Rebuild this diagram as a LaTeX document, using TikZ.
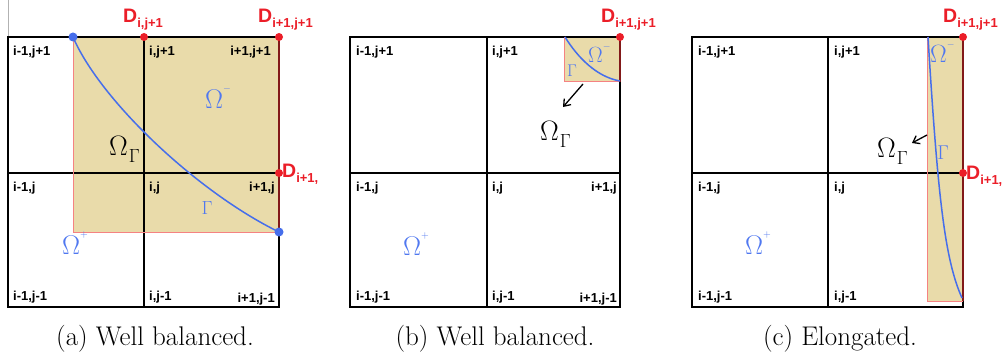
\RequirePackage{fix-cm}
\documentclass[tikz,border=0pt]{standalone}
\usepackage{fontspec}
\usepackage{graphicx}
\newfontfamily\arialf{Liberation Sans}
\usetikzlibrary{arrows.meta}
\definecolor{shadec}{RGB}{233,219,170}
\definecolor{pinkc}{RGB}{245,130,130}
\definecolor{edgec}{RGB}{130,25,25}
\definecolor{redc}{RGB}{235,30,40}
\definecolor{bluec}{RGB}{70,110,235}
\definecolor{blued}{RGB}{80,120,240}
\newcommand\Dl[1]{{\arialf\bfseries\fontsize{19.5}{20}\selectfont D\raisebox{-5pt}{\fontsize{13}{13}\selectfont #1}}}
\newcommand\OmG{{\fontsize{28}{28}\selectfont$\Omega$}\hspace{1pt}\raisebox{-7pt}{\fontsize{19}{19}\selectfont$\Gamma$}}
\newcommand\OmS[2]{{\fontsize{#2}{#2}\selectfont$\Omega$\raisebox{0.6em}{\fontsize{10}{10}\selectfont$#1$}}}
\newcommand\gridat[3]{\draw[gridln] (#1,37) rectangle (#3,307); \draw[gridln] (#2,37)--(#2,307) (#1,173)--(#3,173);}
\begin{document}
\begin{tikzpicture}[x=1pt,y=-1pt,
  gridln/.style={line width=1.8pt,black},
  cell/.style={font=\arialf\bfseries\fontsize{13}{13}\selectfont,inner sep=0pt},
  nw/.style={cell,anchor=north west},
  ne/.style={cell,anchor=north east},
  dlab/.style={text=redc,inner sep=0pt,anchor=base west},
  rdot/.style={circle,fill=redc,inner sep=0pt,minimum size=8pt},
  bdot/.style={circle,fill=bluec,inner sep=0pt,minimum size=9pt},
  softedge/.style={pinkc,line width=1pt},
  hardedge/.style={edgec,line width=1.8pt},
  curveln/.style={bluec,line width=1.5pt},
  omlab/.style={inner sep=0pt,anchor=base west},
  bluelab/.style={omlab,text=blued},
  gamlab/.style={inner sep=0pt,text=blued},
  pointer/.style={black,line width=1.3pt,-{Straight Barb[length=6pt,width=9pt]}},
  captxt/.style={font=\fontsize{27}{30}\selectfont,inner sep=0pt}]
\useasboundingbox (0,0) rectangle (1004,361);
\draw[gray!60,line width=0.8pt] (8,0)--(8,37);

% ---------- panel (a)
\fill[shadec] (73,37) rectangle (279,232);
\gridat{8}{144}{279}
\draw[softedge] (73,37)--(73,232)--(279,232);
\draw[hardedge] (279,37)--(279,232);
\node[nw] (a11) at (13,46) {i-1,j+1};
\node[nw] (a21) at (149,46) {i,j+1};
\node[ne] (a31) at (271,46) {i+1,j+1};
\node[nw] (a12) at (13,182) {i-1,j};
\node[nw] (a22) at (149,182) {i,j};
\node[ne] (a32) at (275,182) {i+1,j};
\node[nw] (a13) at (13,291) {i-1,j-1};
\node[nw] (a23) at (149,291) {i,j-1};
\node[ne] (a33) at (275,293) {i+1,j-1};
\coordinate (aP) at (73,37);
\coordinate (aQ) at (279,232);
\draw[curveln] (aP) .. controls (100,100) and (197,192) .. (aQ);
\node[bdot] (aPdot) at (aP) {};
\node[bdot] (aQdot) at (aQ) {};
\node[rdot] (aD1) at (144,37) {};
\node[rdot] (aD2) at (279,37) {};
\node[rdot] (aD3) at (279,173) {};
\node[dlab] (aL1) at (123,23) {\Dl{i,j+1}};
\node[dlab] (aL2) at (258,23) {\Dl{i+1,j+1}};
\node[dlab] (aL3) at (282,177) {\Dl{i+1,}};
\node[omlab] (aOG) at (109,155) {\OmG};
\node[bluelab] (aOm) at (205,108) {\OmS{-}{27}};
\node[bluelab] (aOp) at (62,254) {\OmS{+}{27}};
\node[gamlab,font=\fontsize{19}{19}\selectfont] (aG) at (207,208) {$\Gamma$};
\node[captxt] (capa) at (155,339) {(a) Well balanced.};

% ---------- panel (b)
\fill[shadec] (564,37) rectangle (620,82);
\gridat{350}{487}{620}
\draw[softedge] (564,37)--(564,82)--(620,82);
\draw[hardedge] (620,37)--(620,82);
\node[nw] (b11) at (356,46) {i-1,j+1};
\node[nw] (b21) at (492,46) {i,j+1};
\node[nw] (b12) at (356,182) {i-1,j};
\node[nw] (b22) at (492,182) {i,j};
\node[ne] (b32) at (617,182) {i+1,j};
\node[nw] (b13) at (356,291) {i-1,j-1};
\node[nw] (b23) at (492,291) {i,j-1};
\node[ne] (b33) at (617,293) {i+1,j-1};
\coordinate (bP) at (565,37);
\coordinate (bQ) at (620,81);
\draw[curveln] (bP) .. controls (578,58) and (597,77) .. (bQ);
\node[rdot] (bD2) at (620,37) {};
\node[dlab] (bL2) at (601,23) {\Dl{i+1,j+1}};
\node[bluelab] (bOm) at (588,63) {\OmS{-}{22}};
\node[gamlab,font=\fontsize{17}{17}\selectfont] (bG) at (572,71) {$\Gamma$};
\coordinate (bA) at (583,84);
\coordinate (bB) at (563,107);
\draw[pointer] (bA)--(bB);
\node[omlab] (bOG) at (540,140) {\OmG};
\node[bluelab] (bOp) at (403,255) {\OmS{+}{27}};
\node[captxt] (capb) at (495,339) {(b) Well balanced.};

% ---------- panel (c)
\fill[shadec] (927,37) rectangle (963,301);
\gridat{692}{828}{963}
\draw[softedge] (927,37)--(927,301)--(963,301);
\draw[hardedge] (963,37)--(963,301);
\node[nw] (c11) at (698,46) {i-1,j+1};
\node[nw] (c21) at (834,46) {i,j+1};
\node[nw] (c12) at (698,182) {i-1,j};
\node[nw] (c22) at (834,182) {i,j};
\node[nw] (c13) at (698,291) {i-1,j-1};
\node[nw] (c23) at (834,291) {i,j-1};
\coordinate (cP) at (928,37);
\coordinate (cQ) at (962,298);
\draw[curveln] (cP) .. controls (938,200) and (945,260) .. (cQ);
\node[rdot] (cD2) at (963,37) {};
\node[rdot] (cD3) at (963,173) {};
\node[dlab] (cL2) at (943,23) {\Dl{i+1,j+1}};
\node[dlab] (cL3) at (966,179) {\Dl{i+1,}};
\node[bluelab] (cOm) at (930,63) {\OmS{-}{25}};
\node[gamlab,font=\fontsize{20}{20}\selectfont] (cG) at (943,153) {$\Gamma$};
\coordinate (cA) at (927,135);
\coordinate (cB) at (912,143);
\draw[pointer] (cA)--(cB);
\node[omlab] (cOG) at (877,157) {\OmG};
\node[bluelab] (cOp) at (745,254) {\OmS{+}{27}};
\node[captxt] (capc) at (840,339) {(c) Elongated.};
\end{tikzpicture}
\end{document}
